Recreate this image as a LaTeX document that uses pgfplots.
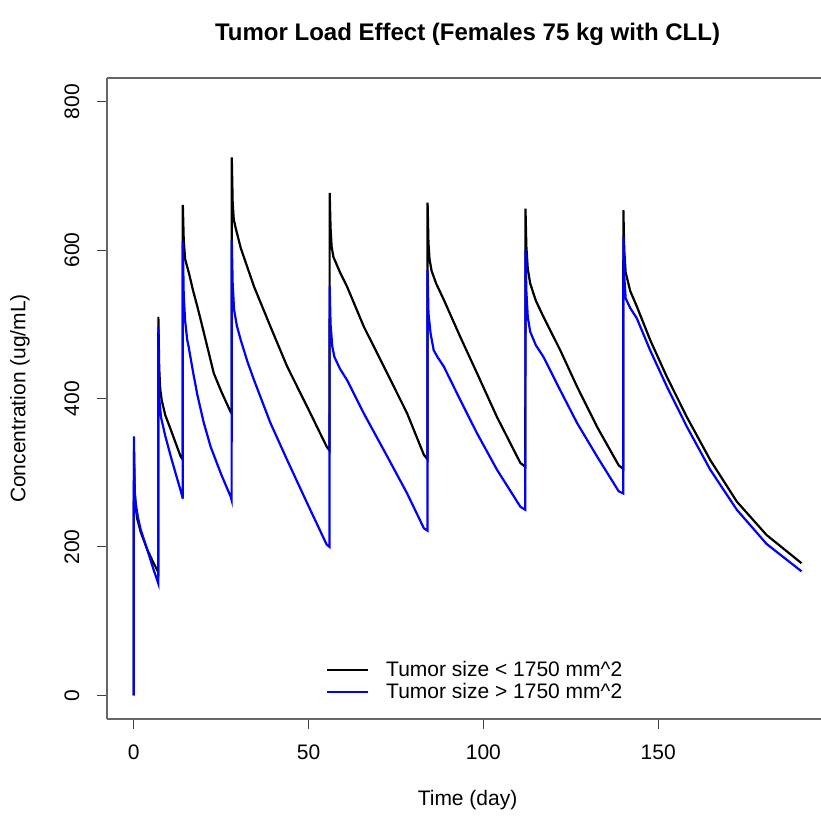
\documentclass[border=0pt]{standalone}
\usepackage{pgfplots}
\pgfplotsset{compat=1.18}
\usepackage{fontspec}
\setmainfont{Liberation Sans}
\begin{document}
\begin{tikzpicture}
\begin{axis}[
  name=ax,
  scale only axis, width=357pt, height=320.5pt,
  xmin=-7.64, xmax=196.57, ymin=-32, ymax=832,
  every non boxed y axis/.style={},
  axis x line=box, axis y line=left,
  x axis line style={-, black!60, line width=0.6pt},
  y axis line style={-, black!60, line width=0.6pt},
  tick align=outside, major tick length=5pt,
  tick style={black!75, line width=0.6pt},
  xtick={0,50,100,150}, ytick={0,200,400,600,800},
  xtick pos=bottom, ytick pos=left,
  /pgf/number format/assume math mode=true,
  ticklabel style={font=\fontsize{10.5}{12.6}\selectfont},
  xticklabel shift=4.25pt,
  yticklabel shift=5.25pt,
  yticklabel style={rotate=90, anchor=south},
  title={Tumor Load Effect (Females 75 kg with CLL)},
  title style={at={(axis description cs:0.505,1)}, anchor=center, yshift=16pt, font=\fontsize{12}{14}\selectfont\bfseries},
  xlabel={Time (day)},
  xlabel style={at={(axis description cs:0.505,0)}, anchor=center, yshift=-40.5pt, font=\fontsize{10.5}{12.6}\selectfont},
  ylabel={Concentration (ug/mL)},
  ylabel style={at={(axis description cs:-0.1218,0.5)}, anchor=center, font=\fontsize{10.5}{12.6}\selectfont},
  legend style={draw=none, fill=none, at={(axis description cs:0.517,0.0144)}, anchor=south, font=\fontsize{10.5}{12.6}\selectfont, row sep=-2pt},
  legend cell align=left,
  legend image code/.code={\draw[#1] (0pt,0pt) -- (20.5pt,0pt); \path (27pt,0pt);},
]
\addplot[black, line width=1.1pt] coordinates {
(0,0) (0.05,330) (0.3,270) (0.6,252) (1,238) (2,220) (4,195) (5.5,180) (7,166)
(7.05,510) (7.3,440) (7.6,412) (8,398) (9,378) (10.6,358) (12,340) (13.4,322) (14,318)
(14.05,661) (14.3,615) (14.7,588) (15.8,569) (17,545) (18.2,524) (20.1,488) (22.9,434) (25,410) (27.7,382) (28,380)
(28.05,725) (28.3,665) (28.6,642) (29.1,631) (30.6,603) (32.5,577) (34.4,551) (39.1,497) (43.9,443) (49.6,389) (55.2,335) (56,330)
(56.05,677) (56.3,630) (56.6,605) (57.1,591) (59,570) (61,551) (65.8,497) (72.5,434) (78.2,380) (83,324) (84,318)
(84.05,664) (84.3,610) (84.6,588) (85.2,572) (86.5,555) (88.7,533) (93.4,483) (98.2,434) (103.9,375) (110.6,313) (112,308)
(112.05,656) (112.3,605) (112.7,575) (113.4,555) (115,532) (117.2,510) (122,465) (126.8,416) (132.5,362) (138.7,310) (140,305)
(140.05,654) (140.3,600) (140.7,570) (142,545) (143.9,524) (147.7,479) (152.5,429) (158.2,375) (164.9,317) (172.5,261) (181,216) (191,178)
};
\addlegendentry{Tumor size < 1750 mm\textasciicircum 2}
\addplot[blue, line width=1.1pt] coordinates {
(0,0) (0.02,176) (0.05,349) (0.3,275) (0.6,258) (1.2,240) (2,223) (3.9,196) (5.5,172) (7,151)
(7.05,497) (7.3,400) (7.8,375) (9,350) (10.6,322) (12.3,294) (13.9,268) (14,265)
(14.05,611) (14.3,540) (14.7,505) (15.3,479) (15.7,470) (17,435) (18.2,405) (20,368) (22,335) (25,298) (27.7,268) (28,263)
(28.05,613) (28.3,555) (28.7,520) (29.5,498) (30.6,479) (32.5,450) (34.4,425) (39.1,367) (43.9,317) (49.6,259) (55.2,203) (56,200)
(56.05,551) (56.3,500) (56.8,470) (57.4,456) (59,440) (61,425) (65.8,380) (72.5,322) (78.2,272) (83,225) (84,222)
(84.05,573) (84.3,515) (84.9,488) (85.8,465) (87,455) (88.7,443) (93.4,398) (98.2,353) (103.9,304) (110.6,254) (112,250)
(112.05,600) (112.3,545) (112.7,510) (113.4,490) (115,472) (117.2,456) (122,411) (126.8,367) (132.5,322) (138.7,275) (140,272)
(140.05,618) (140.3,565) (140.7,535) (142,522) (143.9,508) (147.7,465) (152.5,416) (158.2,362) (164.9,304) (172.5,250) (181,204) (191,167)
};
\addlegendentry{Tumor size > 1750 mm\textasciicircum 2}
\end{axis}
\pgfresetboundingbox
\path[use as bounding box] ([shift={(-53.5pt,-49.5pt)}]ax.south west) rectangle ([shift={(0pt,39pt)}]ax.north east);
\end{tikzpicture}
\end{document}
